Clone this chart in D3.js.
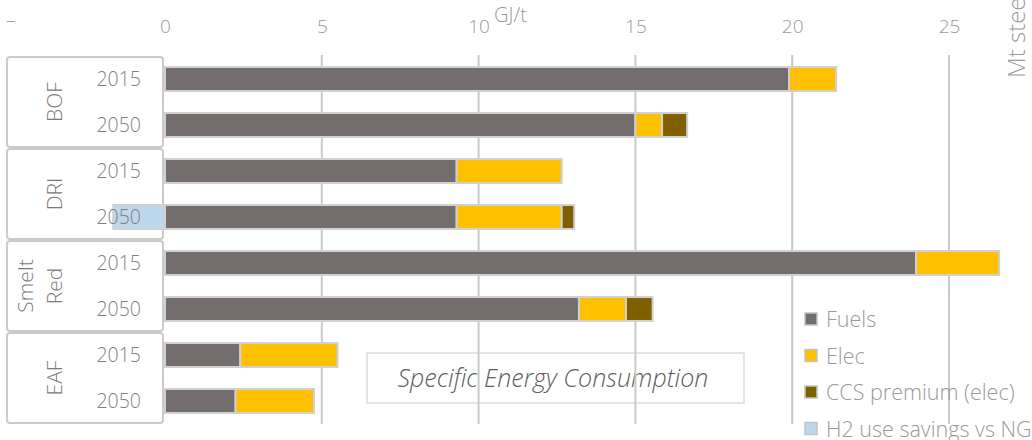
<!DOCTYPE html>
<html><head><meta charset="utf-8">
<script src="https://cdn.jsdelivr.net/npm/d3@7/dist/d3.min.js"></script>
<style>
body{margin:0;background:#fff}
svg{display:block;font-family:"Open Sans",sans-serif;font-weight:300}
</style>
</head><body>
<svg id="c" width="1032" height="440"></svg>
<script>
// ---------- data ----------
const categories = ["BOF", "DRI", "Smelt Red", "EAF"];
const years = ["2015", "2050"];
const seriesNames = ["Fuels", "Elec", "CCS premium (elec)", "H2 use savings vs NG"];
const fuels = [19.9, 15.0, 9.3, 9.3, 23.95, 13.2, 2.4, 2.25];
const elec  = [1.5, 0.85, 3.35, 3.35, 2.65, 1.5, 3.1, 2.5];
const ccs   = [0, 0.8, 0, 0.4, 0, 0.85, 0, 0];
const h2    = [0, 0, 0, -1.65, 0, 0, 0, 0];
const tickValues = [-5, 0, 5, 10, 15, 20, 25];
const tickLabels = ["–", "0", "5", "10", "15", "20", "25"];
const gridValues = [5, 10, 15, 20, 25];
const axisUnit = "GJ/t";
const rightLabel = "Mt steel";
const chartTitle = "Specific Energy Consumption";
const colors = ["#736e6d", "#ffc000", "#7f6000", "#bdd7ee"];

// ---------- build table ----------
const keys = ["fuels", "elec", "ccs", "h2"];
const rows = [];
categories.forEach((c, ci) => years.forEach((yr, yi) => {
  const i = ci * years.length + yi;
  rows.push({id: c + "|" + yr, cat: c, year: yr, fuels: fuels[i], elec: elec[i], ccs: ccs[i], h2: h2[i]});
}));

const svg = d3.select("#c");
const plotTop = 56, plotBottom = 424;
const x = d3.scaleLinear().domain([0, 25]).range([165, 949]);
const y = d3.scaleBand().domain(rows.map(d => d.id)).range([plotTop, plotBottom]).paddingInner(0.48).paddingOuter(0.24);
const yg = d3.scaleBand().domain(categories).range([plotTop, plotBottom]);
const color = d3.scaleOrdinal().domain(keys).range(colors);

// title box
const tb = svg.append("g");
tb.append("rect").attr("x", 367).attr("y", 353).attr("width", 377).attr("height", 50)
  .attr("fill", "none").attr("stroke", "#dcdcdc").attr("stroke-width", 1.5);
tb.append("text").attr("x", 553).attr("y", 387).attr("text-anchor", "middle")
  .attr("font-style", "italic").attr("font-size", 25).attr("fill", "#606060").text(chartTitle);

// gridlines
svg.append("g").selectAll("line").data(gridValues).join("line")
  .attr("x1", d => x(d)).attr("x2", d => x(d)).attr("y1", 55).attr("y2", 424)
  .attr("stroke", "#c9c9c9").attr("stroke-width", 2);

// axis
const axis = d3.axisTop(x).tickValues(tickValues).tickFormat((d, i) => tickLabels[i]).tickSize(0).tickPadding(0);
const ag = svg.append("g").attr("transform", "translate(0,33)").call(axis);
ag.select(".domain").remove();
ag.selectAll("text").attr("font-size", 19).attr("fill", "#9a9a9a").attr("font-family", "Open Sans, sans-serif").attr("font-weight", 300).attr("dy", 0);
ag.selectAll(".tick").filter(d => d < 0).select("text").attr("dy", -6).attr("dx", 2);

svg.append("text").attr("x", 494).attr("y", 22).attr("font-size", 20).attr("fill", "#9a9a9a").text(axisUnit);
svg.append("text").attr("transform", "translate(1025,78) rotate(-90)").attr("font-size", 24)
  .attr("fill", "#9a9a9a").text(rightLabel);

// category boxes
const cg = svg.append("g");
cg.selectAll("rect").data(categories).join("rect")
  .attr("x", 7).attr("y", d => yg(d) + 1).attr("width", 156).attr("height", yg.bandwidth() - 2)
  .attr("rx", 3).attr("fill", "#fff").attr("stroke", "#cbcbcb").attr("stroke-width", 2);
cg.selectAll("text").data(categories).join("text")
  .attr("transform", d => `translate(62,${yg(d) + yg.bandwidth() / 2}) rotate(-90)`)
  .attr("text-anchor", "middle").attr("font-size", 21).attr("fill", "#7a7a7a")
  .each(function(d) {
    const parts = d.split(" ");
    const t = d3.select(this);
    parts.forEach((p, i) => t.append("tspan").attr("x", 0).attr("y", (i - (parts.length - 1)) * 29).text(p));
  });

// bars
const stack = d3.stack().keys(keys).offset(d3.stackOffsetDiverging);
const series = stack(rows);
svg.append("g").selectAll("g").data(series).join("g").attr("fill", d => color(d.key))
  .selectAll("rect").data(d => d.filter(s => s[1] - s[0] !== 0)).join("rect")
  .attr("x", d => x(Math.min(d[0], d[1]))).attr("width", d => Math.abs(x(d[1]) - x(d[0])))
  .attr("y", d => y(d.data.id)).attr("height", y.bandwidth())
  .attr("stroke", "#d0d0d0").attr("stroke-width", 2);

// year labels
svg.append("g").selectAll("text").data(rows).join("text")
  .attr("x", 141).attr("y", d => y(d.id) + y.bandwidth() / 2 + 7)
  .attr("text-anchor", "end").attr("font-size", 19.5).attr("fill", "#7f7f7f").text(d => d.year);

// legend
const lg = svg.append("g").attr("transform", "translate(805,319)");
const li = lg.selectAll("g").data(seriesNames).join("g").attr("transform", (d, i) => `translate(0,${i * 36.5})`);
li.append("rect").attr("x", 0).attr("y", -6).attr("width", 12).attr("height", 12)
  .attr("fill", (d, i) => colors[i]).attr("stroke", "#c4c4c4").attr("stroke-width", 1.5);
li.append("text").attr("x", 21).attr("y", 8).attr("font-size", 21.5).attr("fill", "#9a9a9a").text(d => d);
</script>
</body></html>
